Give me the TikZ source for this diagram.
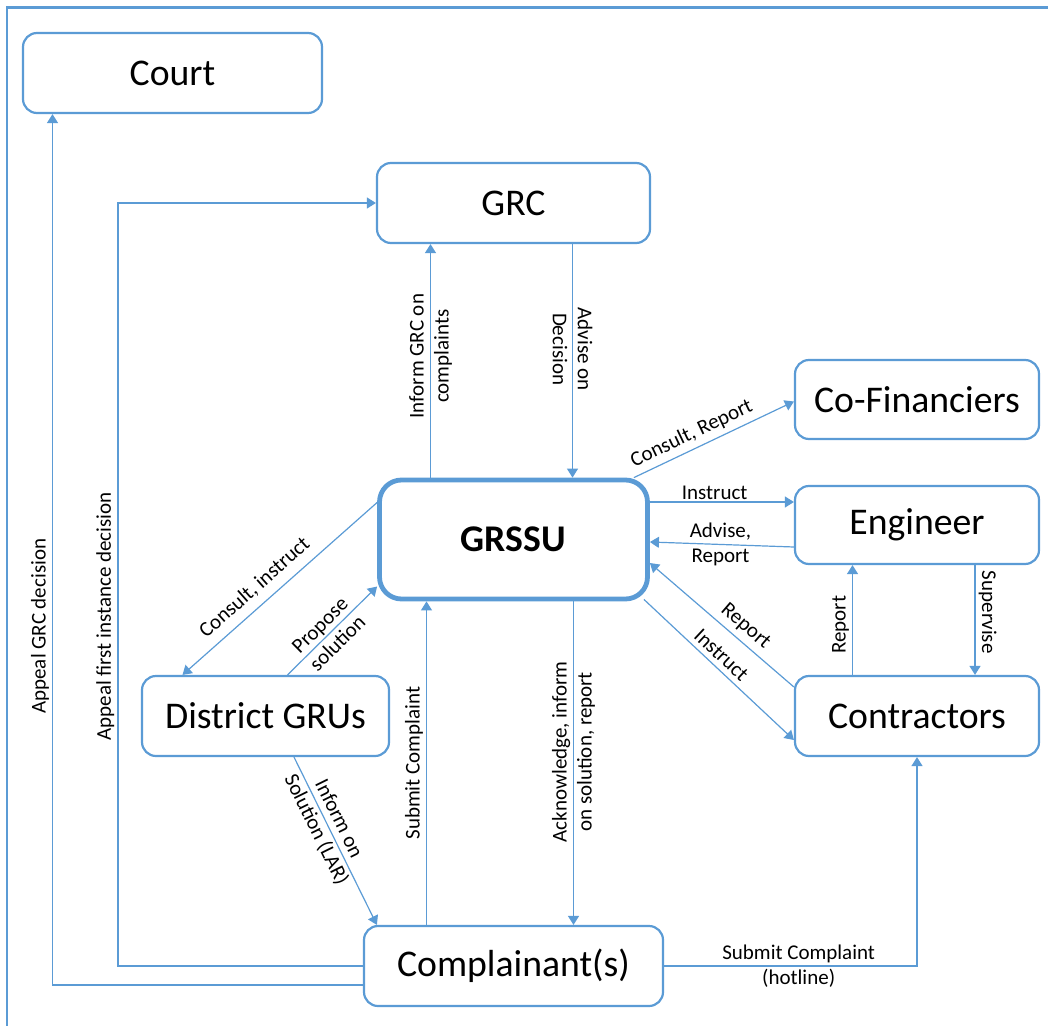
\documentclass[tikz,border=0pt]{standalone}
\usepackage{fontspec}
\setmainfont{Carlito}
\usetikzlibrary{arrows.meta,calc,positioning}

\definecolor{grsblue}{RGB}{91,155,213}

\tikzset{
  box/.style={draw=grsblue, line width=1.1pt, rounded corners=7pt, align=center, inner sep=0pt,
    font=\fontsize{18.85}{22}\selectfont},
  hub/.style={box, line width=2.4pt, rounded corners=11pt, font=\fontsize{18.85}{22}\selectfont\bfseries},
  arr/.style={draw=grsblue, line width=0.6pt, -{Triangle[length=4.5pt,width=5.5pt]}},
  lbl/.style={font=\fontsize{10.5}{12.5}\selectfont, align=center, inner sep=1pt, text=black},
}

\begin{document}
\begin{tikzpicture}[x=0.5pt,y=-0.5pt]
  \useasboundingbox (0,0) rectangle (1048,1026);
  \draw[grsblue, line width=1.15pt] (7,1026) -- (7,7.5) -- (1048,7.5);

  % boxes
  \node[box, minimum width=149.5pt, minimum height=40pt] (court) at (172.5,73) {Court};
  \node[box, minimum width=136.5pt, minimum height=40pt] (grc) at (513.5,203) {GRC};
  \node[box, minimum width=122pt, minimum height=39.5pt] (cofin) at (917,399.5) {Co-Financiers};
  \node[hub, minimum width=134pt, minimum height=59.5pt] (grssu) at (513.5,539.5) {GRSSU};
  \node[box, minimum width=122pt, minimum height=39pt] (eng) at (917,525) {Engineer};
  \node[box, minimum width=123.5pt, minimum height=40pt] (gru) at (265.5,716) {District GRUs};
  \node[box, minimum width=122pt, minimum height=40pt] (contr) at (917,716) {Contractors};
  \node[box, minimum width=149.5pt, minimum height=40pt] (compl) at (513.5,966) {Complainant(s)};

  % GRC
  \draw[arr] ($(grssu.north)+(-83,0)$) -- node[lbl, pos=0.52, rotate=90] (tInform) {Inform GRC on\\complaints} ($(grc.south)+(-83,0)$);
  \draw[arr] ($(grc.south)+(59,0)$) -- node[lbl, pos=0.45, rotate=-90] (tAdvDec) {Advise on\\Decision} ($(grssu.north)+(59,0)$);

  % right side
  \draw[arr] ($(grssu.north east)+(-16,0)$) -- node[lbl, pos=0.4, sloped, above=1.5pt] (tConsRep) {Consult, Report} ($(cofin.west)+(0,2)$);
  \draw[arr] ($(grssu.east)+(0,-37.5)$) -- node[lbl, pos=0.45, above] (tInstrEng) {Instruct} ($(eng.west)+(0,-23)$);
  \draw[arr] ($(eng.west)+(0,22)$) -- node[lbl, pos=0.51] (tAdvRep) {Advise,\\Report} ($(grssu.east)+(0,2.5)$);
  \draw[arr] ($(contr.west)+(0,-29)$) -- node[lbl, pos=0.4, sloped, above=1.5pt] (tRepContr) {Report} ($(grssu.east)+(0,23.5)$);
  \draw[arr] ($(grssu.south east)+(-6,-2)$) -- node[lbl, pos=0.46, sloped, above=1.5pt] (tInstrContr) {Instruct} ($(contr.west)+(0,24)$);
  \draw[arr] ($(contr.north)+(-64.5,0)$) -- node[lbl, pos=0.455, rotate=90, anchor=south, inner sep=1.5pt] (tRepEng) {Report} ($(eng.south)+(-64.5,0)$);
  \draw[arr] ($(eng.south)+(58,0)$) -- node[lbl, pos=0.43, rotate=-90, anchor=south, inner sep=1.5pt] (tSuperv) {Supervise} ($(contr.north)+(58,0)$);

  % district GRUs
  \draw[arr] ($(grssu.west)+(0,-37)$) -- node[lbl, pos=0.57, sloped, above=3pt] (tConsInstr) {Consult, instruct} ($(gru.north)+(-83,0)$);
  \draw[arr] ($(gru.north)+(22,0)$) -- node[lbl, pos=0.46, sloped] (tPropose) {Propose\\solution} ($(grssu.west)+(0,47)$);
  \draw[arr] ($(gru.south)+(28.5,0)$) -- node[lbl, pos=0.4, sloped] (tInfSol) {Inform on\\Solution (LAR)} ($(compl.north west)+(14,0)$);

  % complainants
  \draw[arr] ($(compl.north)+(-87,0)$) -- node[lbl, pos=0.5, rotate=90, anchor=south, inner sep=1.5pt] (tSubmit) {Submit Complaint} ($(grssu.south)+(-87,0)$);
  \draw[arr] ($(grssu.south)+(60,0)$) -- node[lbl, pos=0.465, rotate=90] (tAck) {Acknowledge, inform\\on solution, report} ($(compl.north)+(60,0)$);
  \draw[arr] (compl.east) -| node[lbl, pos=0.266] (tHotline) {Submit Complaint\\(hotline)} (contr.south);
  \draw[arr] (compl.west) -- ++(-245,0) |- node[lbl, pos=0.229, rotate=90, anchor=south, inner sep=1.5pt] (tAppFirst) {Appeal first instance decision} (grc.west);
  \draw[arr] ($(compl.west)+(0,19)$) -| node[lbl, pos=0.706, rotate=90, anchor=south, inner sep=1.5pt] (tAppGRC) {Appeal GRC decision} ($(court.south)+(-120,0)$);
\end{tikzpicture}
\end{document}
